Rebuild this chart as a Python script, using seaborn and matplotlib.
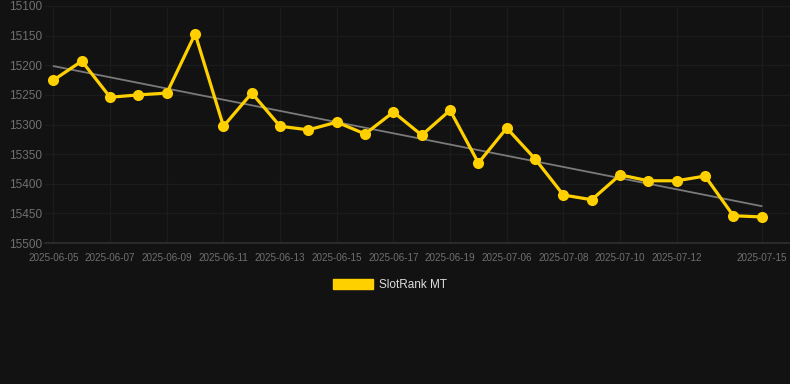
import numpy as np
import pandas as pd
import seaborn as sns
import matplotlib
matplotlib.use("Agg")
from matplotlib import pyplot as plt
from matplotlib.patches import Patch

# data
dates = ["2025-06-05", "2025-06-06", "2025-06-07", "2025-06-08", "2025-06-09",
         "2025-06-10", "2025-06-11", "2025-06-12", "2025-06-13", "2025-06-14",
         "2025-06-15", "2025-06-16", "2025-06-17", "2025-06-18", "2025-06-19",
         "2025-06-20", "2025-07-06", "2025-07-07", "2025-07-08", "2025-07-09",
         "2025-07-10", "2025-07-11", "2025-07-12", "2025-07-13", "2025-07-14",
         "2025-07-15"]
rank = [15225, 15193, 15254, 15250, 15247, 15147, 15303, 15247, 15303, 15309,
        15296, 15316, 15279, 15318, 15276, 15365, 15306, 15358, 15419, 15427,
        15385, 15395, 15395, 15387, 15454, 15456]
label_idx = [0, 2, 4, 6, 8, 10, 12, 14, 16, 18, 20, 22, 25]

bg = "#121212"
gold = "#FFD000"
grid = "#1c1c1c"

df = pd.DataFrame({"idx": np.arange(len(dates)), "date": dates, "rank": rank})

sns.set_theme(style="dark")
plt.rcParams["font.family"] = ["Liberation Sans", "DejaVu Sans"]

fig = plt.figure(figsize=(7.9, 3.84), dpi=100, facecolor=bg)
ax = fig.add_axes([45 / 790, 1 - 243 / 384, 745 / 790, 237 / 384])
ax.set_facecolor(bg)

# trend line (least squares)
k, b = np.polyfit(df["idx"], df["rank"], 1)
ax.plot(df["idx"], k * df["idx"] + b, color="#7a7a7a", lw=1.3, zorder=2)

sns.lineplot(data=df, x="idx", y="rank", ax=ax, color=gold, lw=2.3,
             marker="o", markersize=8, markeredgewidth=0, zorder=3)

ax.set_xlim(-0.3, 26.0)
ax.set_ylim(15500, 15100)
ax.set_yticks(np.arange(15100, 15501, 50))
ax.set_xticks(label_idx)
ax.set_xticklabels([dates[i] for i in label_idx])
ax.set_xlabel("")
ax.set_ylabel("")

ax.grid(True, color=grid, lw=0.9)
for s in ["top", "right", "left"]:
    ax.spines[s].set_visible(False)
ax.spines["bottom"].set_color("#2e2e2e")
ax.tick_params(axis="y", colors="#707070", labelsize=8.5, length=0, pad=2)
ax.tick_params(axis="x", colors="#707070", labelsize=7.1, length=5,
               color=grid, pad=2)

fig.legend(handles=[Patch(facecolor=gold, edgecolor=gold, label="SlotRank MT")],
           loc="center", bbox_to_anchor=(390 / 790, 1 - 285 / 384),
           frameon=False, labelcolor="#dddddd", fontsize=8.5,
           handlelength=3.4, handleheight=0.9, handletextpad=0.5)

fig.savefig("out.png", dpi=100, facecolor=bg)
